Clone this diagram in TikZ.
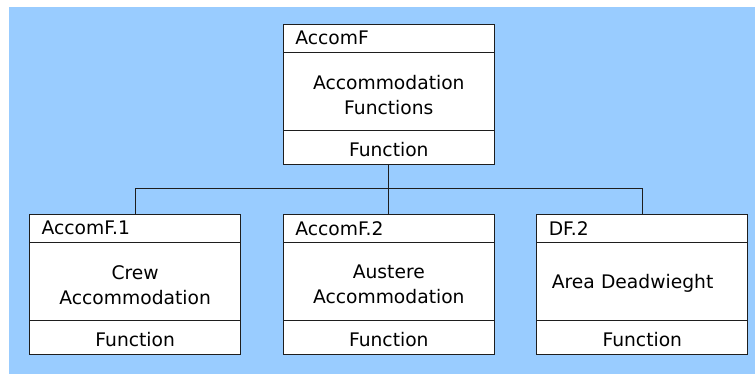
\documentclass[tikz,border=0pt]{standalone}
\usepackage{fontspec}
\setmainfont{DejaVu Sans}
\usetikzlibrary{positioning}
\definecolor{bgblue}{HTML}{99CCFF}
\definecolor{linecol}{HTML}{1E1E1E}
% shift text down without changing the space it occupies
\newcommand\lowerby[2]{\raisebox{-#1}[\height][\depth]{#2}}
\begin{document}
\begin{tikzpicture}[x=1pt,y=-1pt,
  part/.style={draw=linecol, line width=1pt, fill=white, rectangle,
    inner ysep=0pt, outer sep=0pt, font=\fontsize{18.7}{25}\selectfont},
  headpart/.style={part, minimum height=28pt, text width=187pt, inner xsep=12pt, align=left},
  bodypart/.style={part, minimum height=78pt, text width=199pt, inner xsep=6pt, align=center},
  leftbody/.style={part, minimum height=78pt, text width=181pt, inner xsep=15pt, align=left},
  footpart/.style={part, minimum height=34pt, text width=199pt, inner xsep=6pt, align=center},
  link/.style={draw=linecol, line width=1pt}
]
\useasboundingbox (0,0) rectangle (755,374);
\fill[bgblue] (9,7) rectangle (755,374);

% parent function
\node[headpart, anchor=north west] (top-h) at (283.3,24.3) {AccomF};
\node[bodypart, below=0pt of top-h] (top-b) {\lowerby{3.5pt}{\parbox{199pt}{\centering Accommodation\\Functions}}};
\node[footpart, below=0pt of top-b] (top-f) {\lowerby{2.5pt}{Function}};

% child functions
\node[headpart, anchor=north west] (c1-h) at (29.7,214.3) {AccomF.1};
\node[bodypart, below=0pt of c1-h] (c1-b) {\lowerby{3.5pt}{\parbox{199pt}{\centering Crew\\Accommodation}}};
\node[footpart, below=0pt of c1-b] (c1-f) {\lowerby{2.5pt}{Function}};

\node[headpart, anchor=north west] (c2-h) at (283.3,214.3) {AccomF.2};
\node[bodypart, below=0pt of c2-h] (c2-b) {\lowerby{3.5pt}{\parbox{199pt}{\centering Austere\\Accommodation}}};
\node[footpart, below=0pt of c2-b] (c2-f) {\lowerby{2.5pt}{Function}};

\node[headpart, anchor=north west] (c3-h) at (536.8,214.3) {DF.2};
\node[leftbody, below=0pt of c3-h] (c3-b) {\lowerby{2pt}{Area Deadwieght}};
\node[footpart, below=0pt of c3-b] (c3-f) {\lowerby{2.5pt}{Function}};

% tree connectors
\coordinate (bus) at (388.8,188.3);
\draw[link] (top-f.south) -- (c2-h.north);
\draw[link] (c1-h.north) -- (c1-h.north |- bus) -- (c3-h.north |- bus) -- (c3-h.north);
\end{tikzpicture}
\end{document}
